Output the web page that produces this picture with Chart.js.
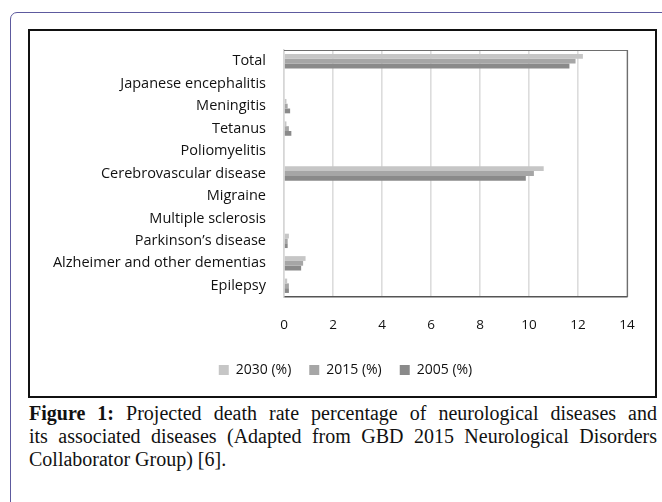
<!DOCTYPE html>
<html><head><meta charset="utf-8">
<script src="https://cdn.jsdelivr.net/npm/chart.js@4.4.1/dist/chart.umd.min.js"></script>
<style>
html,body{margin:0;padding:0;width:662px;height:502px;overflow:hidden;background:#fff;}
#outer{position:absolute;left:10px;top:12px;width:720px;height:600px;border:1.5px solid #5d5a9e;border-radius:7px;box-sizing:border-box;}
#inner{position:absolute;left:28px;top:29px;width:629px;height:369px;border:2px solid #111;box-sizing:border-box;}
#wrap{position:absolute;left:30px;top:31px;width:625px;height:365px;}
#cap{position:absolute;left:29px;top:402px;width:628px;font-family:"Liberation Serif","Times New Roman",serif;font-size:20px;line-height:23px;color:#111;}
#cap div{text-align:justify;text-align-last:justify;white-space:nowrap;}
#cap div.last{text-align-last:left;}
</style></head>
<body>
<div id="outer"></div>
<div id="inner"></div>
<div id="wrap"><canvas id="c" width="625" height="365"></canvas></div>
<div id="cap">
<div><b>Figure 1:</b> Projected death rate percentage of neurological diseases and</div>
<div>its associated diseases (Adapted from GBD 2015 Neurological Disorders</div>
<div class="last">Collaborator Group) [6].</div>
</div>
<script>
const categories = ["Total","Japanese encephalitis","Meningitis","Tetanus","Poliomyelitis","Cerebrovascular disease","Migraine","Multiple sclerosis","Parkinson\u2019s disease","Alzheimer and other dementias","Epilepsy"];
const seriesNames = ["2030 (%)","2015 (%)","2005 (%)"];
const v2030 = [12.2,0,0.1,0.1,0,10.6,0,0,0.2,0.88,0.13];
const v2015 = [11.9,0,0.15,0.2,0,10.2,0,0,0.15,0.78,0.2];
const v2005 = [11.65,0,0.25,0.3,0,9.87,0,0,0.15,0.7,0.2];
const xTicks = [0,2,4,6,8,10,12,14];

const colors = ["#c6c6c6","#a6a6a6","#8a8a8a"];
const fam = "'Open Sans', 'DejaVu Sans', sans-serif";

const frame = {
  id:'frame',
  afterLayout(chart){
    const lg = chart.legend;
    if (lg) { lg.left += 17; lg.right += 17; }
  },
  afterDraw(chart){
    const {ctx, chartArea:a} = chart;
    ctx.save();
    ctx.strokeStyle = '#6e6e6e';
    ctx.lineWidth = 1.2;
    ctx.beginPath();
    ctx.moveTo(a.left, a.top+0.5);
    ctx.lineTo(a.right+0.5, a.top+0.5);
    ctx.lineTo(a.right+0.5, a.bottom);
    ctx.stroke();
    ctx.restore();
  }
};

new Chart(document.getElementById('c'), {
  type:'bar',
  data:{
    labels:categories,
    datasets:[
      {label:seriesNames[0], data:v2030, backgroundColor:colors[0]},
      {label:seriesNames[1], data:v2015, backgroundColor:colors[1]},
      {label:seriesNames[2], data:v2005, backgroundColor:colors[2]}
    ]
  },
  options:{
    indexAxis:'y',
    responsive:false,
    animation:false,
    layout:{padding:{left:0,right:28,top:19,bottom:9}},
    datasets:{bar:{categoryPercentage:0.64,barPercentage:1.0}},
    scales:{
      x:{
        min:0,max:14,
        afterBuildTicks(s){ s.ticks = xTicks.map(v=>({value:v})); },
        grid:{color:'#dcdcdc',lineWidth:1.6,drawTicks:false},
        border:{color:'#555555',width:1.6},
        ticks:{color:'#111',font:{family:fam,size:13.5},padding:20},
        afterFit(s){ s.height = 48; }
      },
      y:{
        grid:{display:false},
        border:{color:'#d6d6d6',width:1.5},
        ticks:{color:'#111',font:{family:fam,size:14.5},padding:10,autoSkip:false},
        afterFit(s){ s.width = 254; }
      }
    },
    plugins:{
      legend:{
        position:'bottom',
        labels:{color:'#111',font:{family:fam,size:14},boxWidth:10,boxHeight:10,padding:18}
      },
      tooltip:{enabled:false}
    }
  },
  plugins:[frame]
});
</script>
</body></html>
